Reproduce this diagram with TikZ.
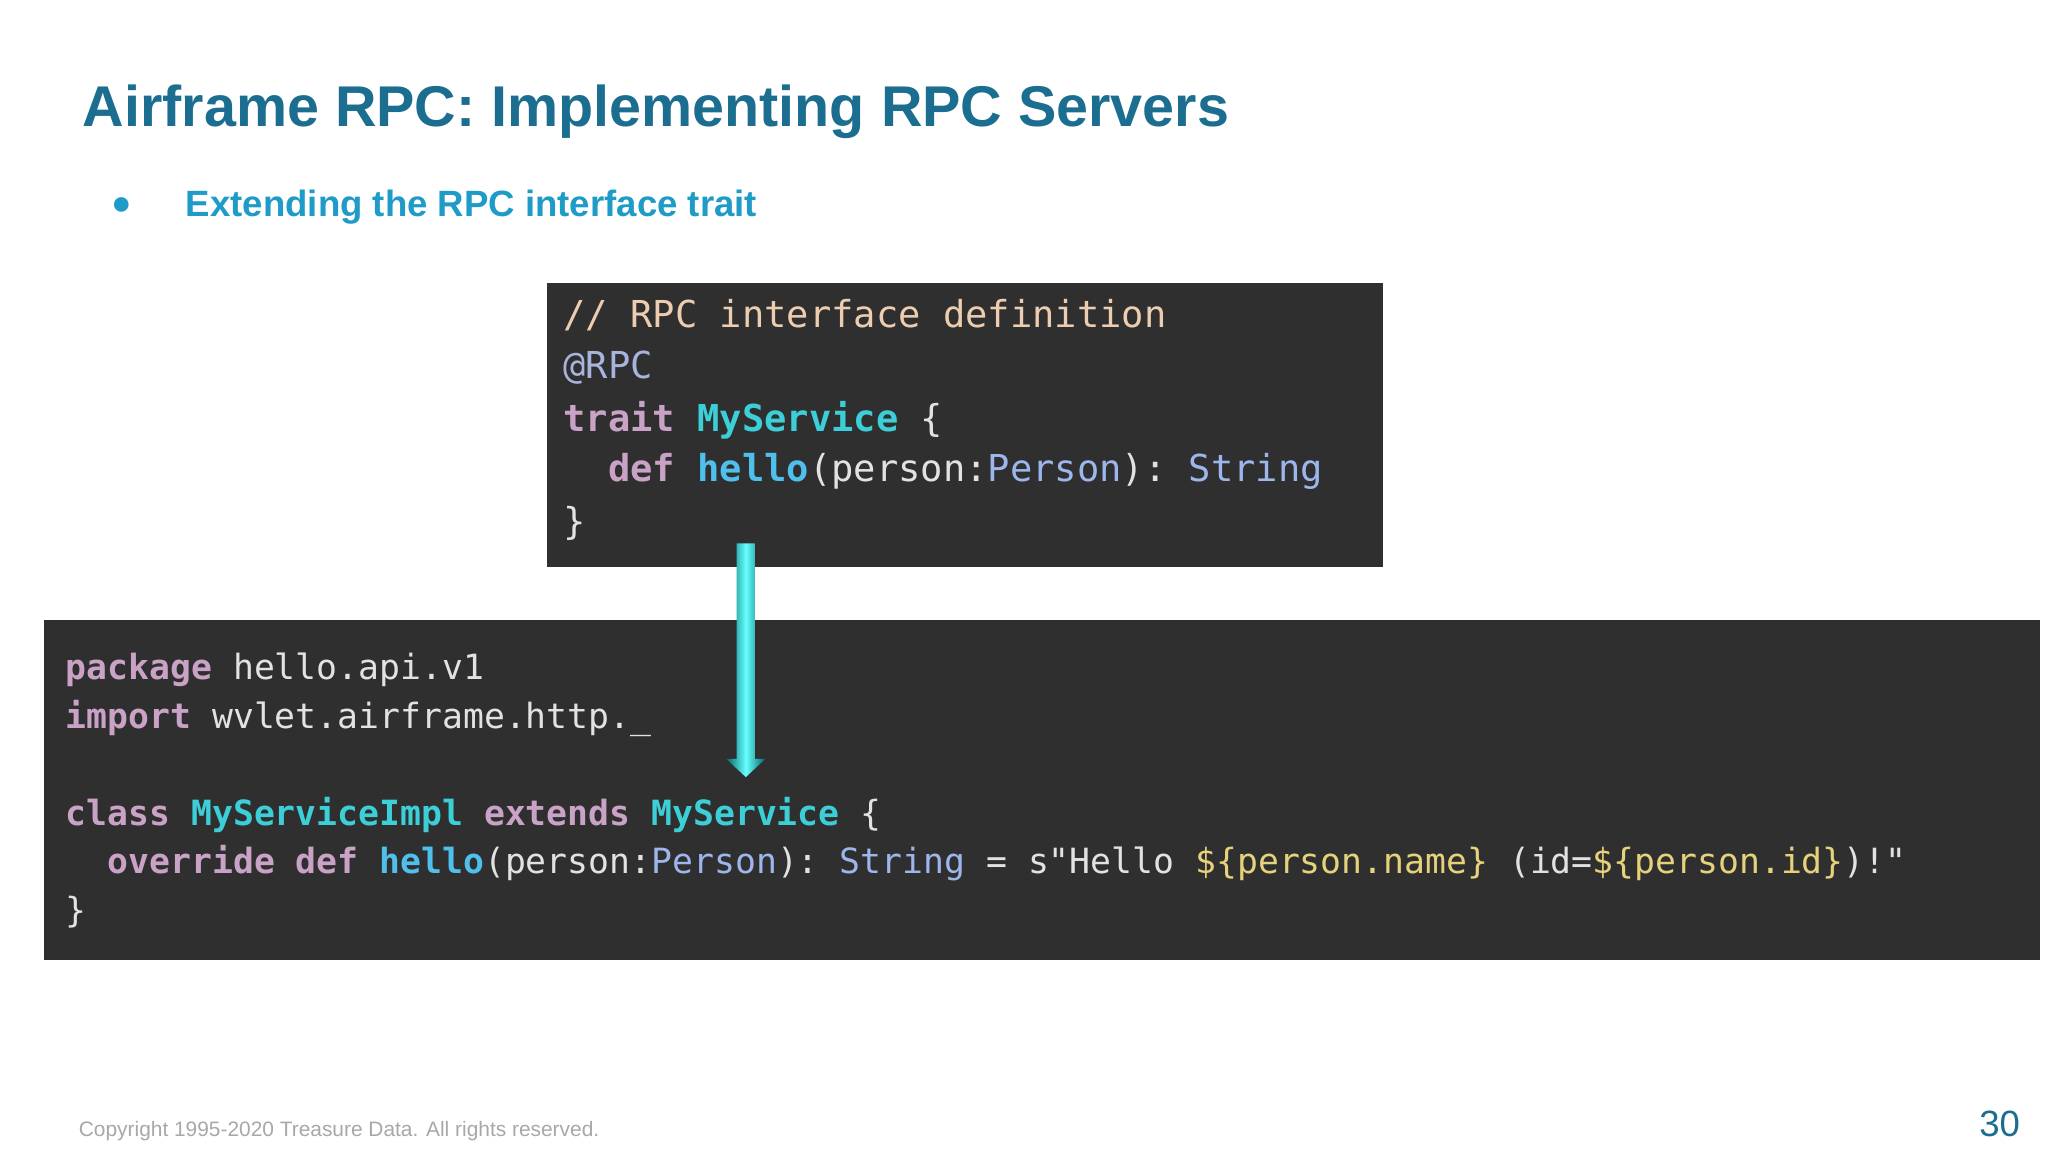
\documentclass[tikz,border=0pt]{standalone}
\usepackage{fontspec}
\setmainfont{Liberation Sans}
\setmonofont{DejaVu Sans Mono}
\definecolor{titleblue}{HTML}{1B6E8F}
\definecolor{bulletblue}{HTML}{1E9BC6}
\definecolor{codebg}{HTML}{2F2F30}
\definecolor{kw}{HTML}{C9A2C6}
\definecolor{cmt}{HTML}{EDCDB0}
\definecolor{plain}{HTML}{E2E2E2}
\definecolor{typ}{HTML}{3CCFD8}
\definecolor{fn}{HTML}{4FC0EC}
\definecolor{ty2}{HTML}{9DB6EC}
\definecolor{ann}{HTML}{A9B4DD}
\definecolor{str}{HTML}{F0E0B0}
\definecolor{interp}{HTML}{E6D27A}
\definecolor{foot}{HTML}{A8A8A8}
\newcommand{\K}[1]{\textcolor{kw}{\bfseries #1}}
\newcommand{\T}[1]{\textcolor{typ}{\bfseries #1}}
\newcommand{\F}[1]{\textcolor{fn}{\bfseries #1}}
\newcommand{\Y}[1]{\textcolor{ty2}{#1}}
\usetikzlibrary{calc}
\begin{document}
\begin{tikzpicture}[x=0.5pt,y=-0.5pt,
  codeline/.style={anchor=base west,inner sep=0,text=plain,font=\ttfamily\fontsize{14.2pt}{16pt}\selectfont},
  codeline2/.style={codeline,font=\ttfamily\fontsize{13.3pt}{15pt}\selectfont}]
\useasboundingbox (0,0) rectangle (1568,882);
\fill[white] (0,0) rectangle (1568,882);
\node[anchor=base west,inner sep=0,text=titleblue,font=\bfseries\fontsize{22pt}{26pt}\selectfont] (title) at (63,97) {Airframe RPC: Implementing RPC Servers};
\node[anchor=base,inner sep=0,text=bulletblue,font=\fontsize{13pt}{15pt}\selectfont] (bul) at (93,164) {●};
\node[anchor=base west,inner sep=0,text=bulletblue,font=\bfseries\fontsize{14pt}{16pt}\selectfont] (sub) at (142,166) {Extending the RPC interface trait};
% top code box
\fill[codebg] (419,217) rectangle (1059,434);
\node[codeline] (t1) at (431,251) {\textcolor{cmt}{// RPC interface definition}};
\node[codeline] (t2) at (431,290) {\textcolor{ann}{@RPC}};
\node[codeline] (t3) at (431,330) {\K{trait} \T{MyService} \{};
\node[codeline] (t4) at (431,369) {\ \ \K{def} \F{hello}(person:\Y{Person}): \Y{String}};
\node[codeline] (t5) at (431,409) {\}};
% bottom code box
\fill[codebg] (34,475) rectangle (1562,735);
\node[codeline2] (b1) at (50,520) {\K{package} hello.api.v1};
\node[codeline2] (b2) at (50,558) {\K{import} wvlet.airframe.http.\_};
\node[codeline2] (b3) at (50,632) {\K{class} \T{MyServiceImpl} \K{extends} \T{MyService} \{};
\node[codeline2] (b4) at (50,669) {\ \ \K{override} \K{def} \F{hello}(person:\Y{Person}): \Y{String} = s"Hello \textcolor{interp}{\$\{person.name\}} (id=\textcolor{interp}{\$\{person.id\}})!"};
\node[codeline2] (b5) at (50,706) {\}};
% arrow
\coordinate (as) at (571,416);
\coordinate (ae) at (571,595);
\shade[left color=teal!80!black,right color=teal!80!black,middle color=cyan!60!white]
  ($(as)+(-7,0)$) -- ($(as)+(7,0)$) -- ($(ae)+(7,-14)$) -- ($(ae)+(15,-14)$) -- (ae) -- ($(ae)+(-15,-14)$) -- ($(ae)+(-7,-14)$) -- cycle;
\node[anchor=base west,inner sep=0,text=foot,font=\fontsize{8pt}{10pt}\selectfont] (copy) at (60,870) {Copyright 1995-2020 Treasure Data. All rights reserved.};
\node[anchor=base east,inner sep=0,text=titleblue,font=\fontsize{14pt}{16pt}\selectfont] (pg) at (1547,870) {30};
\end{tikzpicture}
\end{document}
